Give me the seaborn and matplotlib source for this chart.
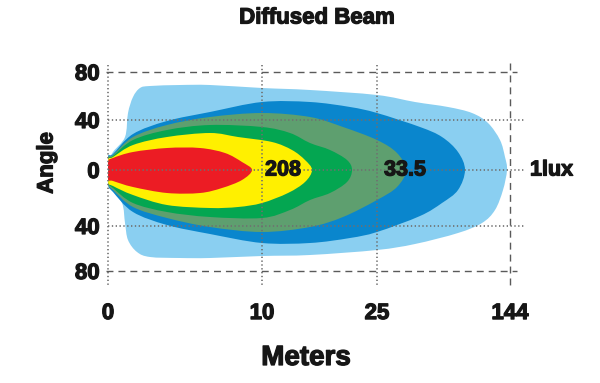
import matplotlib
matplotlib.use("Agg")
import matplotlib.pyplot as plt
import matplotlib.patheffects as pe
from matplotlib.path import Path
from matplotlib.patches import PathPatch
import numpy as np
import seaborn as sns

# ---- data (chart units: x = position along distance axis, y = angular offset) ----
distance_ticks = [0, 154, 269, 402]
distance_labels = ["0", "10", "25", "144"]
angle_ticks = [98, 50, 0, -56, -101]
angle_labels = ["80", "40", "0", "40", "80"]

# outline of each illuminance zone (closed outlines), outermost first
zone_lightblue_x = [0, 5, 17, 20, 25, 32, 42, 72, 102, 154, 202, 269, 307, 340, 364, 380, 392, 397, 399,
                    395, 387, 374, 350, 307, 269, 202, 154, 102, 72, 42, 29, 20, 17, 14, 2, 0]
zone_lightblue_y = [7, 18, 33, 57, 73, 82, 84, 85, 85, 82, 80, 75, 68, 63, 57, 47, 30, 13, 0,
                    -20, -40, -53, -63, -74, -80, -85, -86, -88, -88, -87, -82, -70, -53, -33, -17, -7]

zone_darkblue_x = [0, 5, 25, 59, 102, 154, 202, 242, 269, 312, 334, 350, 357,
                   350, 334, 312, 269, 242, 202, 154, 102, 59, 25, 5, 0]
zone_darkblue_y = [13, 16, 36, 49, 58, 68, 68, 63, 57, 43, 33, 18, 0,
                   -20, -33, -46, -62, -68, -73, -73, -64, -55, -42, -22, -14]

zone_greygreen_x = [0, 5, 25, 59, 102, 154, 202, 235, 269, 289, 298,
                    289, 269, 235, 202, 154, 102, 59, 25, 5, 0]
zone_greygreen_y = [12, 15, 33, 45, 53, 57, 53, 43, 30, 17, 0,
                    -17, -30, -47, -57, -62, -57, -48, -37, -20, -13]

zone_green_x = [0, 5, 25, 59, 102, 154, 182, 202, 222, 239, 244,
                239, 222, 202, 182, 154, 102, 59, 25, 5, 0]
zone_green_y = [11, 14, 30, 40, 45, 43, 37, 27, 20, 10, 0,
                -12, -23, -30, -40, -48, -47, -42, -33, -18, -12]

zone_yellow_x = [0, 5, 25, 59, 102, 130, 164, 184, 197, 204,
                 197, 180, 154, 130, 102, 59, 25, 5, 0]
zone_yellow_y = [10, 13, 25, 33, 37, 33, 28, 20, 10, 0,
                 -12, -23, -33, -37, -38, -35, -25, -16, -12]

zone_red_x = [0, 5, 25, 59, 92, 117, 134, 144, 134, 114, 92, 59, 25, 5, 0]
zone_red_y = [8, 12, 18, 22, 22, 17, 8, 0, -10, -18, -23, -23, -17, -11, -9]

zone_colors = ["#8ACFF1", "#0A86CD", "#5E9F6F", "#04A651", "#FFF000", "#EC1C24"]

value_labels = ["208", "33.5", "1lux"]
value_label_x = [175, 297, 422]


def smooth_outline(xs, ys):
    """Closed outline through the given vertices, drawn with cubic Bezier segments."""
    p = np.column_stack([xs, ys]).astype(float)
    n = len(p)
    verts = [p[0]]
    codes = [Path.MOVETO]
    for i in range(n):
        p0, p1, p2, p3 = p[i - 1], p[i], p[(i + 1) % n], p[(i + 2) % n]
        verts += [p1 + (p2 - p0) / 6.0, p2 - (p3 - p1) / 6.0, p2]
        codes += [Path.CURVE4] * 3
    return Path(verts, codes)


# ---- style ----
sns.set_theme(style="white")
plt.rcParams["font.family"] = ["Liberation Sans", "DejaVu Sans"]
plt.rcParams["font.weight"] = "bold"
ink = "#161616"
heavy = [pe.withStroke(linewidth=0.9, foreground=ink)]

fig = plt.figure(figsize=(6, 3.83), dpi=100)
ax = fig.add_axes([108 / 600, (383 - 285) / 383, 422 / 600, 225 / 383])
ax.set_xlim(0, 422)
ax.set_ylim(-115, 110)

zones = [
    (zone_lightblue_x, zone_lightblue_y),
    (zone_darkblue_x, zone_darkblue_y),
    (zone_greygreen_x, zone_greygreen_y),
    (zone_green_x, zone_green_y),
    (zone_yellow_x, zone_yellow_y),
    (zone_red_x, zone_red_y),
]
for (zx, zy), col in zip(zones, zone_colors):
    ax.add_patch(PathPatch(smooth_outline(zx, zy), facecolor=col, lw=0, zorder=1))

# grid lines
dotted = dict(color="#6f6f6f", lw=1.2, linestyle=(0, (0.8, 1.5)), zorder=3, clip_on=False)
dashed = dict(color="#5a5a5a", lw=1.0, linestyle=(0, (5, 3.6)), zorder=3, clip_on=False)
for y in angle_ticks[1:4]:
    ax.plot([0, 417], [y, y], **dotted)
for y in (angle_ticks[0], angle_ticks[-1]):
    ax.plot([-2, 409], [y, y], **dashed)
for x in distance_ticks[:3]:
    ax.plot([x, x], [105, -115], **dotted)
ax.plot([distance_ticks[3]] * 2, [107, -117], **dashed)

# ticks
ax.set_xticks(distance_ticks, distance_labels)
ax.set_yticks(angle_ticks, angle_labels)
ax.tick_params(axis="x", length=0, pad=13, labelsize=16, labelcolor=ink)
ax.tick_params(axis="y", length=0, pad=6, labelsize=16, labelcolor=ink)
for lab in ax.get_xticklabels() + ax.get_yticklabels():
    lab.set_fontweight("bold")
    lab.set_path_effects(heavy)
sns.despine(ax=ax, left=True, bottom=True)
ax.grid(False)

# value labels
ax.text(value_label_x[0], 0, value_labels[0], ha="center", va="center", fontsize=15.5,
        fontweight="bold", color=ink, zorder=5, path_effects=heavy)
ax.text(value_label_x[1], 0, value_labels[1], ha="center", va="center", fontsize=15.5,
        fontweight="bold", color=ink, zorder=5, path_effects=heavy)
ax.text(value_label_x[2], 0, value_labels[2], ha="left", va="center", fontsize=15.5,
        fontweight="bold", color=ink, zorder=5, clip_on=False, path_effects=heavy)

# titles
fig.text(317 / 600, 1 - 18 / 383, "Diffused Beam", ha="center", va="center",
         fontsize=16, fontweight="bold", color=ink, path_effects=heavy)
fig.text(306 / 600, 1 - 358 / 383, "Meters", ha="center", va="center",
         fontsize=20, fontweight="bold", color=ink, path_effects=heavy)
fig.text(47 / 600, 1 - 163 / 383, "Angle", ha="center", va="center", rotation=90,
         fontsize=16, fontweight="bold", color=ink, path_effects=heavy)

fig.savefig("out.png", dpi=100)
